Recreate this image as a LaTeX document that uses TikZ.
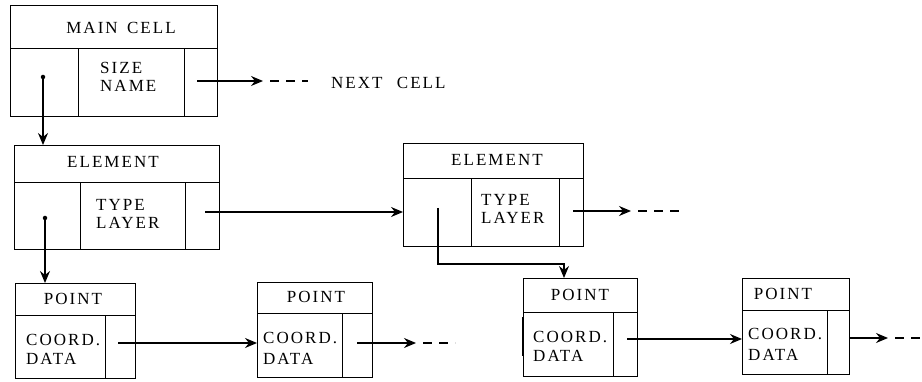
\documentclass[tikz,border=0pt]{standalone}
\usepackage{fontspec}
\setmainfont{Liberation Serif}[LetterSpace=12]
\usetikzlibrary{arrows.meta,calc}

\begin{document}
\begin{tikzpicture}[x=1pt,y=-1pt,
  cellbox/.style={draw, line width=1.2pt, inner sep=0pt, anchor=north west},
  txt/.style={inner sep=0pt, font=\fontsize{17}{18}\selectfont},
  ptr/.style={line width=1.2pt, -{Stealth[length=12pt,width=10pt,inset=4pt]}},
  cont/.style={line width=1.2pt, dash pattern=on 9pt off 7pt},
  dot/.style={circle, fill, inner sep=0pt, minimum size=4.5pt}]

\useasboundingbox (0,0) rectangle (922,382);

% ---- main cell record
\node[cellbox, minimum width=207pt, minimum height=43pt] (mhead) at (10,5) {};
\node[cellbox, minimum width=68pt,  minimum height=68pt] (mptr)  at (10,48) {};
\node[cellbox, minimum width=106pt, minimum height=68pt] (mdata) at (78,48) {};
\node[cellbox, minimum width=33pt,  minimum height=68pt] (mnext) at (184,48) {};
\node[txt] (mtitle) at (121,27.5) {MAIN\hspace{3pt} CELL};
\node[txt, anchor=base west] (msize) at (100,74) {SIZE};
\node[txt, anchor=base west] (mname) at (100,92) {NAME};
\node[txt, anchor=west] (nextcell) at (331,83) {NEXT\hspace{8pt} CELL};

% ---- first element record
\node[cellbox, minimum width=205pt, minimum height=37pt] (e1head) at (14,145) {};
\node[cellbox, minimum width=66pt,  minimum height=67pt] (e1ptr)  at (14,182) {};
\node[cellbox, minimum width=105pt, minimum height=67pt] (e1data) at (80,182) {};
\node[cellbox, minimum width=34pt,  minimum height=67pt] (e1next) at (185,182) {};
\node[txt] (e1title) at (113,162) {ELEMENT};
\node[txt, anchor=base west] (e1type)  at (96,211) {TYPE};
\node[txt, anchor=base west] (e1layer) at (96,229) {LAYER};

% ---- second element record
\node[cellbox, minimum width=180pt, minimum height=35pt] (e2head) at (403,143) {};
\node[cellbox, minimum width=68pt,  minimum height=68pt] (e2ptr)  at (403,178) {};
\node[cellbox, minimum width=88pt,  minimum height=68pt] (e2data) at (471,178) {};
\node[cellbox, minimum width=24pt,  minimum height=68pt] (e2next) at (559,178) {};
\node[txt] (e2title) at (497,160) {ELEMENT};
\node[txt, anchor=base west] (e2type)  at (481,206) {TYPE};
\node[txt, anchor=base west] (e2layer) at (481,224) {LAYER};

% ---- point records
\node[cellbox, minimum width=120pt, minimum height=32pt] (p1head) at (15,283) {};
\node[cellbox, minimum width=90pt,  minimum height=63pt] (p1data) at (15,315) {};
\node[cellbox, minimum width=30pt,  minimum height=63pt] (p1next) at (105,315) {};
\node[txt] (p1title) at (73,299) {POINT};
\node[txt, anchor=base west] (p1coord) at (26,345) {COORD.};
\node[txt, anchor=base west] (p1data t) at (26,365) {DATA};

\node[cellbox, minimum width=115pt, minimum height=31pt] (p2head) at (257,282) {};
\node[cellbox, minimum width=85pt,  minimum height=64pt] (p2data) at (257,313) {};
\node[cellbox, minimum width=30pt,  minimum height=64pt] (p2next) at (342,313) {};
\node[txt] (p2title) at (316,297) {POINT};
\node[txt, anchor=base west] (p2coord) at (263,344) {COORD.};
\node[txt, anchor=base west] (p2data t) at (263,364) {DATA};

\node[cellbox, minimum width=114pt, minimum height=34pt] (p3head) at (523,278) {};
\node[cellbox, minimum width=90pt,  minimum height=64pt] (p3data) at (523,312) {};
\node[cellbox, minimum width=24pt,  minimum height=64pt] (p3next) at (613,312) {};
\node[txt] (p3title) at (580,295) {POINT};
\node[txt, anchor=base west] (p3coord) at (533,342) {COORD.};
\node[txt, anchor=base west] (p3data t) at (533,362) {DATA};
\draw[line width=2.6pt] ([yshift=-5pt]p3data.north west) -- ([yshift=21pt]p3data.south west);

\node[cellbox, minimum width=107pt, minimum height=32pt] (p4head) at (742,278) {};
\node[cellbox, minimum width=85pt,  minimum height=64pt] (p4data) at (742,310) {};
\node[cellbox, minimum width=22pt,  minimum height=64pt] (p4next) at (827,310) {};
\node[txt] (p4title) at (783,294) {POINT};
\node[txt, anchor=base west] (p4coord) at (748,340) {COORD.};
\node[txt, anchor=base west] (p4data t) at (748,360) {DATA};

% ---- pointers
% main cell -> first element
\node[dot] (mdot) at (43,77) {};
\draw[ptr] (mdot) -- (mdot |- e1head.north);
% main cell -> next cell
\coordinate (mout) at (197,81);
\coordinate (mend) at (263,81);
\coordinate (mdash) at (308,81);
\draw[ptr] (mout) -- (mend);
\draw[cont] ([xshift=7pt]mend) -- (mdash);

% first element -> its first point
\node[dot] (edot) at (45,218) {};
\draw[ptr] (edot) -- (edot |- p1head.north);
% first element -> second element
\coordinate (eout) at (205,212);
\draw[ptr] (eout) -- (eout -| e2ptr.west);

% second element -> its first point
\coordinate (e2src) at (438,208);
\coordinate (e2turn) at (564,264);
\draw[ptr] (e2src) |- (e2turn) -- (e2turn |- p3head.north);
% second element -> next element
\coordinate (e2out) at (573,211);
\coordinate (e2end) at (631,211);
\coordinate (e2dash) at (682,211);
\draw[ptr] (e2out) -- (e2end);
\draw[cont] ([xshift=7pt]e2end) -- (e2dash);

% point chains
\coordinate (p1out) at (118,343);
\draw[ptr] (p1out) -- (p1out -| p2data.west);
\coordinate (p2out) at (357,343);
\coordinate (p2end) at (416,343);
\coordinate (p2dash) at (455,343);
\draw[ptr] (p2out) -- (p2end);
\draw[cont] ([xshift=7pt]p2end) -- (p2dash);

\coordinate (p3out) at (627,339);
\draw[ptr] (p3out) -- (p3out -| p4data.west);
\coordinate (p4out) at (850,338);
\coordinate (p4end) at (888,338);
\coordinate (p4dash) at (922,338);
\draw[ptr] (p4out) -- (p4end);
\draw[cont] ([xshift=7pt]p4end) -- (p4dash);
\end{tikzpicture}
\end{document}
